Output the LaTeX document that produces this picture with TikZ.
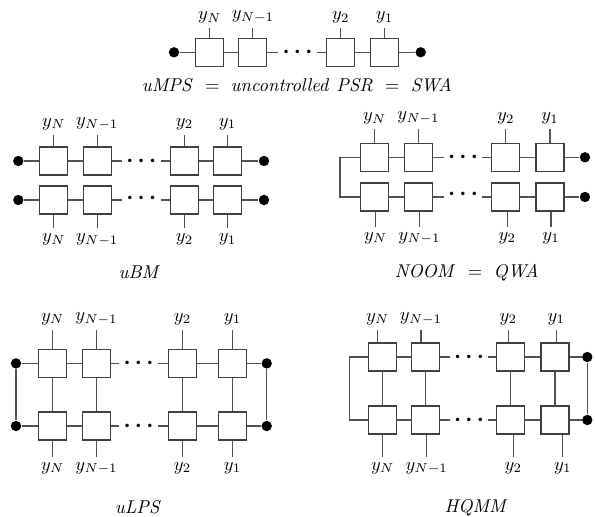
\documentclass[tikz,border=0pt]{standalone}
\begin{document}
\begin{tikzpicture}[x=0.54pt, y=-0.54pt,
  box/.style={draw=black!75, fill=white, line width=0.7pt, minimum size=15.1pt, inner sep=0pt},
  blob/.style={circle, fill=black, minimum size=5.6pt, inner sep=0pt},
  toplbl/.style={anchor=south, inner sep=2.7pt},
  botlbl/.style={anchor=north, inner sep=2.7pt},
  more/.style={inner sep=2.2pt, font=\large\boldmath},
  wire/.style={draw=black!68, line width=0.7pt}]

\useasboundingbox (0,0) rectangle (595,516);

\node[box] (mps1) at (209.8,52.3) {};
\node[box] (mps2) at (252.8,52.3) {};
\node[box] (mps3) at (340.8,52.3) {};
\node[box] (mps4) at (384.5,52.3) {};
\node[blob] (mpsl) at (174,52.3) {};
\node[blob] (mpsr) at (420.7,52.3) {};
\node[more] (mpsdots) at (297.5,52.3) {$\cdots$};
\draw[wire] (mpsl) -- (mps1) -- (mps2) -- (mpsdots) -- (mps3) -- (mps4) -- (mpsr);

\node[toplbl] (mpsy1) at (209.8,28.3) {$y_N$};
\node[toplbl] (mpsy2) at (252.8,28.3) {$y_{N-1}$};
\node[toplbl] (mpsy3) at (340.8,28.3) {$y_2$};
\node[toplbl] (mpsy4) at (384.5,28.3) {$y_1$};
\draw[wire] (mpsy1.south) -- (mpsy1.south |- mps1.north);
\draw[wire] (mpsy2.south) -- (mpsy2.south |- mps2.north);
\draw[wire] (mpsy3.south) -- (mpsy3.south |- mps3.north);
\draw[wire] (mpsy4.south) -- (mpsy4.south |- mps4.north);

\node (mpsname) at (297,85) {$\mathit{uMPS}\ =\ \mathit{uncontrolled\ PSR}\ =\ \mathit{SWA}$};

\node[box] (bm1) at (53.8,161) {};
\node[box] (bm2) at (97.2,161) {};
\node[box] (bm3) at (184.5,161) {};
\node[box] (bm4) at (227.5,161) {};
\node[box] (bm5) at (53.8,200) {};
\node[box] (bm6) at (97.2,200) {};
\node[box] (bm7) at (184.5,200) {};
\node[box] (bm8) at (227.5,200) {};
\node[blob] (bml1) at (18.3,161) {};
\node[blob] (bmr1) at (264,161) {};
\node[blob] (bml2) at (18.3,200) {};
\node[blob] (bmr2) at (264,200) {};
\node[more] (bmdots1) at (141.3,161) {$\cdots$};
\node[more] (bmdots2) at (141.3,198) {$\cdots$};
\draw[wire] (bml1) -- (bm1) -- (bm2) -- (bmdots1) -- (bm3) -- (bm4) -- (bmr1);
\draw[wire] (bml2) -- (bm5) -- (bm6) -- (bmdots2.west |- bm6) (bmdots2.east |- bm7) -- (bm7) -- (bm8) -- (bmr2);

\node[toplbl] (bmy1) at (53.8,135) {$y_N$};
\node[toplbl] (bmy2) at (97.2,135) {$y_{N-1}$};
\node[toplbl] (bmy3) at (184.5,135) {$y_2$};
\node[toplbl] (bmy4) at (227.5,135) {$y_1$};
\node[botlbl] (bmy5) at (53.8,228.3) {$y_N$};
\node[botlbl] (bmy6) at (97.2,228.3) {$y_{N-1}$};
\node[botlbl] (bmy7) at (184.5,228.3) {$y_2$};
\node[botlbl] (bmy8) at (227.5,228.3) {$y_1$};
\draw[wire] (bmy1.south) -- (bmy1.south |- bm1.north);
\draw[wire] (bmy2.south) -- (bmy2.south |- bm2.north);
\draw[wire] (bmy3.south) -- (bmy3.south |- bm3.north);
\draw[wire] (bmy4.south) -- (bmy4.south |- bm4.north);
\draw[wire] (bmy5.north) -- (bmy5.north |- bm5.south);
\draw[wire] (bmy6.north) -- (bmy6.north |- bm6.south);
\draw[wire] (bmy7.north) -- (bmy7.north |- bm7.south);
\draw[wire] (bmy8.north) -- (bmy8.north |- bm8.south);

\node (bmname) at (140,271.7) {$\mathit{uBM}$};

\node[box] (noom1) at (374.7,157.3) {};
\node[box] (noom2) at (418.5,157.3) {};
\node[box] (noom3) at (505.8,157.3) {};
\node[box] (noom4) at (550,157.3) {};
\node[box] (noom5) at (374.7,197) {};
\node[box] (noom6) at (418.5,197) {};
\node[box] (noom7) at (505.8,197) {};
\node[box] (noom8) at (550,197) {};
\node[blob] (noomr1) at (585,157.3) {};
\node[blob] (noomr2) at (585,197) {};
\coordinate (noombend) at (340,177);
\node[more] (noomdots1) at (463,157.3) {$\cdots$};
\node[more] (noomdots2) at (463,194) {$\cdots$};
\draw[wire] (noom1.west) -| (noombend) |- (noom5.west);
\draw[wire] (noom1) -- (noom2) -- (noomdots1) -- (noom3) -- (noom4) -- (noomr1);
\draw[wire] (noom5) -- (noom6) -- (noomdots2.west |- noom6) (noomdots2.east |- noom7) -- (noom7) -- (noom8) -- (noomr2);

\node[toplbl] (noomy1) at (374.7,129.3) {$y_N$};
\node[toplbl] (noomy2) at (418.5,129.3) {$y_{N-1}$};
\node[toplbl] (noomy3) at (505.8,129.3) {$y_2$};
\node[toplbl] (noomy4) at (550,129.3) {$y_1$};
\node[botlbl] (noomy5) at (375.7,226.7) {$y_N$};
\node[botlbl] (noomy6) at (419.5,226.7) {$y_{N-1}$};
\node[botlbl] (noomy7) at (507.3,226.7) {$y_2$};
\node[botlbl] (noomy8) at (551,226.7) {$y_1$};
\draw[wire] (noomy1.south) -- (noomy1.south |- noom1.north);
\draw[wire] (noomy2.south) -- (noomy2.south |- noom2.north);
\draw[wire] (noomy3.south) -- (noomy3.south |- noom3.north);
\draw[wire] (noomy4.south) -- (noomy4.south |- noom4.north);
\draw[wire] (noomy5.north) -- (noomy5.north |- noom5.south);
\draw[wire] (noomy6.north) -- (noomy6.north |- noom6.south);
\draw[wire] (noomy7.north) -- (noomy7.north |- noom7.south);
\draw[wire] (noomy8.north) -- (noomy8.north |- noom8.south);

\node (noomname) at (466.7,273) {$\mathit{NOOM}\ =\ \mathit{QWA}$};

\node[box] (lps1) at (52.7,363.4) {};
\node[box] (lps2) at (96.5,363.4) {};
\node[box] (lps3) at (182.5,363.4) {};
\node[box] (lps4) at (232.5,363.4) {};
\node[box] (lps5) at (52.7,426) {};
\node[box] (lps6) at (96.5,426) {};
\node[box] (lps7) at (182.5,426) {};
\node[box] (lps8) at (232.5,426) {};
\node[blob] (lpsl1) at (16,363.4) {};
\node[blob] (lpsr1) at (266.7,363.4) {};
\node[blob] (lpsl2) at (16,426) {};
\node[blob] (lpsr2) at (266.7,426) {};
\node[more] (lpsdots1) at (138.5,363.4) {$\cdots$};
\node[more] (lpsdots2) at (138.5,426) {$\cdots$};
\draw[wire] (lpsl1) -- (lps1) -- (lps2) -- (lpsdots1) -- (lps3) -- (lps4) -- (lpsr1);
\draw[wire] (lpsl2) -- (lps5) -- (lps6) -- (lpsdots2) -- (lps7) -- (lps8) -- (lpsr2);
\draw[wire] (lpsl1) -- (lpsl2);
\draw[wire] (lpsr1) -- (lpsr2);
\draw[wire] (lps1) -- (lps5);
\draw[wire] (lps2) -- (lps6);
\draw[wire] (lps3) -- (lps7);
\draw[wire] (lps4) -- (lps8);

\node[toplbl] (lpsy1) at (52.7,330) {$y_N$};
\node[toplbl] (lpsy2) at (96.5,330) {$y_{N-1}$};
\node[toplbl] (lpsy3) at (182.5,330) {$y_2$};
\node[toplbl] (lpsy4) at (232.5,330) {$y_1$};
\node[botlbl] (lpsy5) at (52.7,456.7) {$y_N$};
\node[botlbl] (lpsy6) at (96.5,456.7) {$y_{N-1}$};
\node[botlbl] (lpsy7) at (182.5,456.7) {$y_2$};
\node[botlbl] (lpsy8) at (232.5,456.7) {$y_1$};
\draw[wire] (lpsy1.south) -- (lpsy1.south |- lps1.north);
\draw[wire] (lpsy2.south) -- (lpsy2.south |- lps2.north);
\draw[wire] (lpsy3.south) -- (lpsy3.south |- lps3.north);
\draw[wire] (lpsy4.south) -- (lpsy4.south |- lps4.north);
\draw[wire] (lpsy5.north) -- (lpsy5.north |- lps5.south);
\draw[wire] (lpsy6.north) -- (lpsy6.north |- lps6.south);
\draw[wire] (lpsy7.north) -- (lpsy7.north |- lps7.south);
\draw[wire] (lpsy8.north) -- (lpsy8.north |- lps8.south);

\node (lpsname) at (138.3,506.7) {$\mathit{uLPS}$};

\node[box] (hq1) at (382.5,357) {};
\node[box] (hq2) at (425.8,357) {};
\node[box] (hq3) at (510.8,357) {};
\node[box] (hq4) at (555,357) {};
\node[box] (hq5) at (382.5,420) {};
\node[box] (hq6) at (425.8,420) {};
\node[box] (hq7) at (510.8,420) {};
\node[box] (hq8) at (555,420) {};
\node[blob] (hqr1) at (587.3,357) {};
\node[blob] (hqr2) at (587.3,420) {};
\coordinate (hqbend) at (349.3,388.5);
\node[more] (hqdots1) at (469,357) {$\cdots$};
\node[more] (hqdots2) at (469,420) {$\cdots$};
\draw[wire] (hq1.west) -| (hqbend) |- (hq5.west);
\draw[wire] (hq1) -- (hq2) -- (hqdots1) -- (hq3) -- (hq4) -- (hqr1);
\draw[wire] (hq5) -- (hq6) -- (hqdots2) -- (hq7) -- (hq8) -- (hqr2);
\draw[wire] (hqr1) -- (hqr2);
\draw[wire] (hq1) -- (hq5);
\draw[wire] (hq2) -- (hq6);
\draw[wire] (hq3) -- (hq7);
\draw[wire] (hq4) -- (hq8);

\node[toplbl] (hqy1) at (377.7,330) {$y_N$};
\node[toplbl] (hqy2) at (421,330) {$y_{N-1}$};
\node[toplbl] (hqy3) at (508.3,330) {$y_2$};
\node[toplbl] (hqy4) at (556.3,330) {$y_1$};
\node[botlbl] (hqy5) at (382.7,456.7) {$y_N$};
\node[botlbl] (hqy6) at (426.7,456.7) {$y_{N-1}$};
\node[botlbl] (hqy7) at (513.3,456.7) {$y_2$};
\node[botlbl] (hqy8) at (562.7,456.7) {$y_1$};
\draw[wire] (hqy1.south) -- (hqy1.south |- hq1.north);
\draw[wire] (hqy2.south) -- (hqy2.south |- hq2.north);
\draw[wire] (hqy3.south) -- (hqy3.south |- hq3.north);
\draw[wire] (hqy4.south) -- (hqy4.south |- hq4.north);
\draw[wire] (hqy5.north) -- (hqy5.north |- hq5.south);
\draw[wire] (hqy6.north) -- (hqy6.north |- hq6.south);
\draw[wire] (hqy7.north) -- (hqy7.north |- hq7.south);
\draw[wire] (hqy8.north) -- (hqy8.north |- hq8.south);

\node (hqname) at (476.7,508) {$\mathit{HQMM}$};

\end{tikzpicture}
\end{document}
